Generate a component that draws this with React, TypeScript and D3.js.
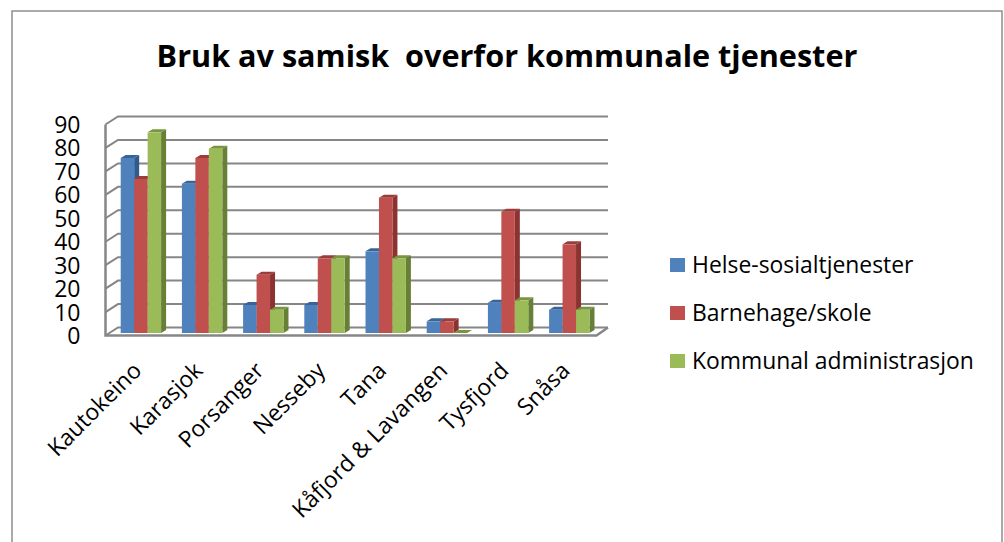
import React from "react";
import * as d3 from "d3";

const categories = ["Kautokeino", "Karasjok", "Porsanger", "Nesseby", "Tana", "Kåfjord & Lavangen", "Tysfjord", "Snåsa"];
const seriesNames = ["Helse-sosialtjenester", "Barnehage/skole", "Kommunal administrasjon"];
const helse = [75, 64, 12, 12, 35, 5, 13, 10];
const barnehage = [66, 75, 25, 32, 58, 5, 52, 38];
const kommunal = [86, 79, 10, 32, 32, 0, 14, 10];
const yTicks = [0, 10, 20, 30, 40, 50, 60, 70, 80, 90];
const title = "Bruk av samisk  overfor kommunale tjenester";
const front = ["#4f81bd", "#c0504d", "#9bbb59"];
const side = ["#2f5a8c", "#8a3331", "#677f36"];
const topc = ["#3a6497", "#9a3c3a", "#7a9440"];

const font = "'Open Sans', Lato, sans-serif";
const W = 1004, H = 542;
const series = [helse, barnehage, kommunal];

export default function App() {
  const yAxis = d3.scaleLinear().domain([0, 90]).range([335.5, 124.5]);
  const yBack = d3.scaleLinear().domain([0, 90]).range([327.5, 116.5]);
  const yBar = d3.scaleLinear().domain([0, 90]).range([333, 123]);
  const xBand = d3.scaleBand<string>().domain(categories).range([110.3, 599.9]).paddingInner(0.34).paddingOuter(0.17);
  const xSeries = d3.scaleBand<number>().domain([0, 1, 2]).range([0, xBand.bandwidth()]);
  const bw = xSeries.bandwidth();
  const dx = 5, dy = 3;
  const gx0 = 105.5, gx1 = 596.5, bx0 = 118, bx1 = 608;
  const gridCol = "#868686";
  const line = d3.line();
  return (
    <svg width={W} height={H} style={{ position: "absolute", left: 0, top: 0 }}>
      <rect x={0} y={0} width={W} height={H} fill="#fff" />
      <path d={`M12 ${H}V11H1002V${H}`} fill="none" stroke="#8e8e8e" strokeWidth={1.5} />
      <text x={507} y={67} textAnchor="middle" fontFamily={font} fontWeight={700} fontSize={30.6} fill="#000" style={{ whiteSpace: "pre" }}>{title}</text>

      {yTicks.map(t => (
        <g key={t}>
          <path d={line([[gx0, yAxis(t)], [bx0, yBack(t)], [bx1, yBack(t)]])!} fill="none" stroke={gridCol} strokeWidth={2} />
          <text x={80.5} y={yAxis(t) + 8.5} textAnchor="end" fontFamily={font} fontSize={23} fill="#000">{t}</text>
        </g>
      ))}
      <path d={`M${gx0} ${yAxis(90)}V${yAxis(0)}H${gx1}L${bx1} ${yBack(0)}`} fill="none" stroke={gridCol} strokeWidth={2.5} />

      {categories.map((c, i) => {
        const x0 = xBand(c)!;
        return (
          <g key={c}>
            {[0, 1, 2].map(s => {
              const v = series[s][i];
              const x = x0 + xSeries(s)!;
              const y = yBar(v), b = yBar(0);
              return (
                <g key={s}>
                  <path d={line([[x + bw, y], [x + bw + dx, y - dy], [x + bw + dx, b - dy], [x + bw, b]])!} fill={side[s]} />
                  <path d={line([[x, y], [x + dx, y - dy], [x + bw + dx, y - dy], [x + bw, y]])!} fill={topc[s]} />
                  <rect x={x} y={y} width={bw} height={b - y} fill={front[s]} />
                </g>
              );
            })}
            <text transform={`translate(${x0 + bw * 1.5 + 2},${372}) rotate(-45)`} textAnchor="end" fontFamily={font} fontSize={22.9} fill="#000">{c}</text>
          </g>
        );
      })}

      {seriesNames.map((n, i) => (
        <g key={n}>
          <rect x={670} y={258 + i * 48} width={15} height={14} fill={front[i]} />
          <text x={692} y={272.5 + i * 48} fontFamily={font} fontSize={22.9} fill="#000">{n}</text>
        </g>
      ))}
    </svg>
  );
}
